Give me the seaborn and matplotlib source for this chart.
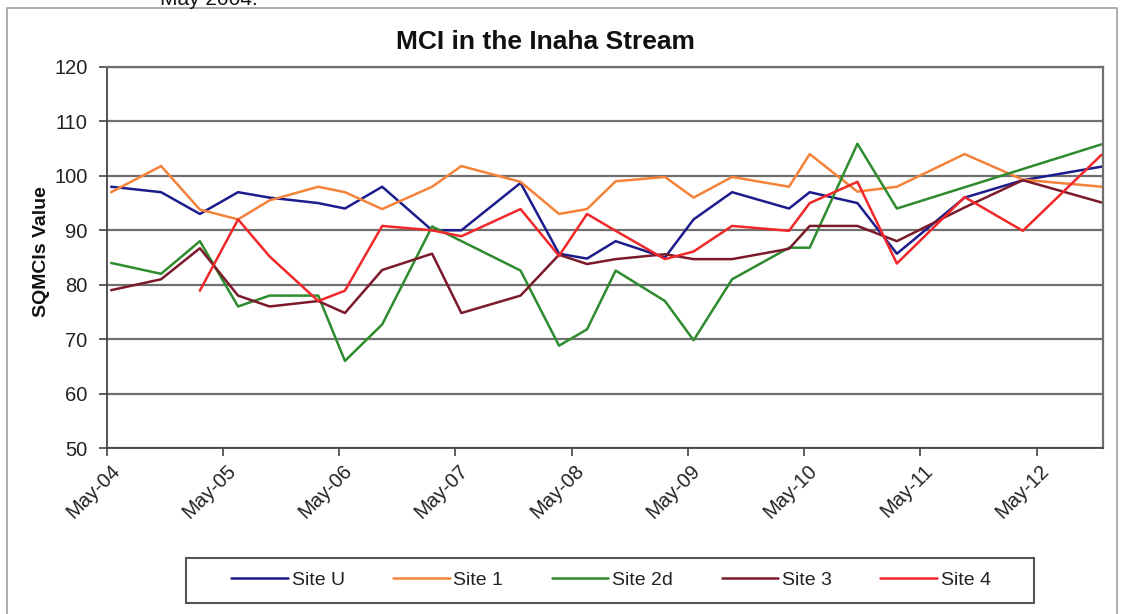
import numpy as np
import pandas as pd
import matplotlib
matplotlib.use("Agg")
import matplotlib.pyplot as plt
import matplotlib.dates as mdates
from matplotlib.patches import Rectangle
from matplotlib.transforms import ScaledTranslation
import seaborn as sns

# sampling dates
dates = ["2004-05-14", "2004-10-18", "2005-02-17", "2005-06-17", "2005-09-24",
         "2006-02-24", "2006-05-19", "2006-09-13", "2007-02-17", "2007-05-20",
         "2007-11-22", "2008-03-22", "2008-06-18", "2008-09-16", "2009-02-18",
         "2009-05-19", "2009-09-17", "2010-03-15", "2010-05-19", "2010-10-16",
         "2011-02-17", "2011-09-18", "2012-03-19", "2012-11-22"]

site_u = [98, 97, 93, 97, 96, 95, 94, 98, 90, 90, 98.7, 85.7, 84.8, 88, 85,
          92, 97, 94, 97, 95, 85.7, 96, 99.2, 101.7]
site_1 = [97, 101.8, 93.8, 92, 95.5, 98, 97, 93.9, 98, 101.8, 98.9, 93, 93.9,
          99, 99.8, 96, 99.8, 98, 104, 97.1, 98, 104, 99.3, 98]
site_2d = [84, 82, 88, 76, 78, 78, 66, 72.7, 90.7, None, 82.6, 68.8, 71.8,
           82.6, 77, 69.8, 81, 86.8, 86.8, 105.9, 94, None, None, 105.8]
site_3 = [79, 81, 86.7, 78, 76, 77, 74.8, 82.7, 85.7, 74.8, 78, 85.5, 83.8,
          84.7, 85.6, 84.7, 84.7, 86.6, 90.8, 90.8, 88, 94.2, 99.2, 95.1]
site_4 = [None, None, 78.9, 92, 85.2, 77, 78.9, 90.8, 90, 88.9, 93.9, 85.3,
          93, 89.9, 84.7, 86.1, 90.8, 89.9, 95, 98.9, 83.9, 96.1, 89.9, 103.9]

sites = ["Site U", "Site 1", "Site 2d", "Site 3", "Site 4"]
series = [site_u, site_1, site_2d, site_3, site_4]
colours = {"Site U": "#1c1c8c", "Site 1": "#f5823a", "Site 2d": "#2e8b2e",
           "Site 3": "#7a1a2a", "Site 4": "#f0282a"}

rows = []
for name, vals in zip(sites, series):
    for d, v in zip(dates, vals):
        if v is not None:
            rows.append({"Date": pd.Timestamp(d), "Value": v, "Site": name})
df = pd.DataFrame(rows)

sns.set_style("white")
plt.rcParams["font.family"] = ["Liberation Sans", "DejaVu Sans"]

W, H = 1124, 614
fig = plt.figure(figsize=(W / 100, H / 100), dpi=100)
ax = fig.add_axes([107 / W, 1 - 448 / H, (1103 - 107) / W, (448 - 67) / H])

sns.lineplot(data=df, x="Date", y="Value", hue="Site", hue_order=sites,
             palette=colours, linewidth=1.8, estimator=None, ax=ax)

ax.set_ylim(50, 120)
ax.set_yticks(range(50, 121, 10))
ax.set_xlim(pd.Timestamp("2004-05-01"), pd.Timestamp("2012-11-26"))
ax.xaxis.set_major_locator(mdates.MonthLocator(bymonth=5))
ax.xaxis.set_major_formatter(mdates.DateFormatter("%b-%y"))

ax.yaxis.grid(True, color="#6f6f6f", linewidth=1.6)
ax.set_axisbelow(True)
for side in ["top", "right"]:
    ax.spines[side].set_color("#6f6f6f")
    ax.spines[side].set_linewidth(1.6)
for side in ["left", "bottom"]:
    ax.spines[side].set_color("#444444")
    ax.spines[side].set_linewidth(1.3)

ax.tick_params(axis="both", direction="out", length=6, width=1.2,
               color="#444444", labelsize=14.5, labelcolor="#222222",
               left=True, bottom=True)
ax.tick_params(axis="y", pad=8)
for lab in ax.get_xticklabels():
    lab.set_rotation(45)
    lab.set_ha("right")
    lab.set_va("top")
    lab.set_rotation_mode("anchor")
    lab.set_transform(lab.get_transform() + ScaledTranslation(0.03, 0, fig.dpi_scale_trans))

ax.set_xlabel("")
ax.set_ylabel("")
fig.text(42 / W, 1 - 252 / H, "SQMCIs Value", rotation=90, ha="center",
         va="center", fontsize=14, fontweight="bold", color="#111111")
fig.text(545 / W, 1 - 42 / H, "MCI in the Inaha Stream", ha="center",
         va="center", fontsize=19, fontweight="bold", color="#111111")

# leftover document text clipped at the top, as in the source picture
fig.text(160 / W, 1 - 5 / H, "May 2004.", ha="left", va="baseline",
         fontsize=15, color="#111111")

# outer chart frame
fig.patches.append(Rectangle((7 / W, -0.05), (1117 - 7) / W, 1.05 - 8 / H,
                             transform=fig.transFigure, fill=False,
                             edgecolor="#a0a0a0", linewidth=1.2))

# legend below the chart in its own box
handles, labels = ax.get_legend_handles_labels()
ax.get_legend().remove()
fig.legend(handles, labels, ncol=5, loc="center",
           bbox_to_anchor=(611 / W, 1 - 580 / H), frameon=False,
           fontsize=14, handlelength=2.9, handletextpad=0.2,
           columnspacing=2.5, labelcolor="#222222")
fig.patches.append(Rectangle((186 / W, 1 - 603 / H), (1034 - 186) / W, 45 / H,
                             transform=fig.transFigure, fill=False,
                             edgecolor="#555555", linewidth=1.5))

fig.savefig("out.png", dpi=100)
